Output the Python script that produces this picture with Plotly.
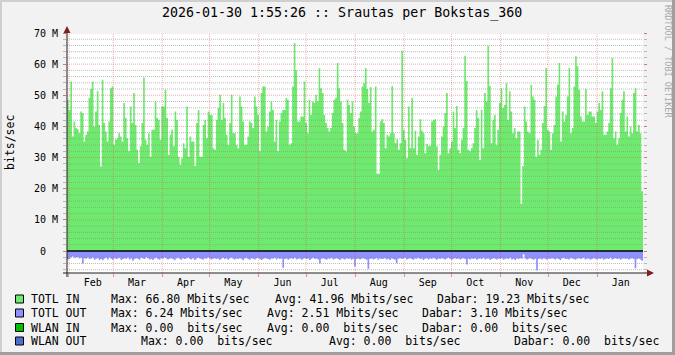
import pandas as pd
import plotly.graph_objects as go

TITLE = "2026-01-30 1:55:26 :: Srautas per Bokstas_360"
UNIT = "bits/sec"
WATERMARK = "RRDTOOL / TOBI OETIKER"
START = pd.Timestamp("2025-01-30 18:00:00")
END = pd.Timestamp("2026-01-30 01:55:26")

# TOTL IN, Mbits/sec
TOTL_IN_M = [
    48.6, 45.3, 54.4, 36.8, 41.6, 39.5, 39.1, 37.8, 44.8, 44.3,
    35.2, 37.3, 38.4, 49.1, 52.0, 54.4, 40.0, 44.8, 51.3, 40.5,
    27.1, 55.0, 41.1, 38.4, 35.2, 41.6, 52.3, 52.8, 34.1, 35.7,
    36.2, 37.8, 36.8, 35.2, 47.5, 42.7, 36.2, 32.0, 46.4, 41.1,
    50.7, 40.5, 32.5, 28.2, 33.6, 41.1, 55.7, 35.7, 34.1, 37.8,
    30.3, 38.9, 38.9, 48.0, 42.7, 42.1, 35.7, 46.4, 46.4, 51.8,
    42.7, 30.9, 37.3, 38.9, 33.6, 44.8, 42.1, 30.3, 27.7, 29.8,
    34.6, 33.0, 46.4, 30.3, 36.8, 35.2, 35.2, 27.3, 41.1, 45.3,
    30.3, 30.3, 40.5, 42.1, 36.2, 44.8, 43.7, 43.7, 33.0, 32.5, 42.1,
    45.9, 50.2, 42.1, 47.5, 42.7, 37.3, 34.1, 41.1, 50.2, 37.8,
    37.8, 34.1, 33.0, 49.6, 46.4, 41.6, 34.1, 34.1, 36.8, 41.6,
    41.1, 39.5, 49.6, 46.4, 43.7, 32.0, 50.7, 52.8, 52.8, 38.4, 40.0,
    44.8, 48.0, 45.3, 35.2, 42.1, 32.0, 41.6, 44.3, 45.3, 45.3, 49.1,
    48.6, 34.1, 34.6, 52.8, 66.8, 58.0, 41.6, 41.6, 43.2, 43.2,
    54.4, 41.1, 37.8, 48.6, 43.7, 48.0, 47.5, 50.2, 48.0, 58.7,
    52.3, 50.7, 43.7, 41.1, 39.5, 38.4, 39.5, 44.3, 48.6, 49.1,
    60.4, 52.3, 48.0, 41.1, 32.5, 32.0, 48.6, 46.9, 44.3, 48.0,
    40.0, 37.8, 37.8,
    42.7, 44.8, 52.8, 53.9, 58.8, 52.0, 47.5, 52.7, 38.4, 38.9,
    52.8, 24.8, 24.8, 41.6, 42.3, 41.1, 33.0, 37.3, 36.8, 37.8,
    53.0, 37.8, 34.6, 35.9, 32.5, 34.6, 64.3, 38.9, 35.7, 29.8,
    46.4, 33.0, 49.1, 33.0, 38.6, 30.9, 36.8, 42.3, 38.6, 37.8,
    31.4, 34.4, 33.6, 33.8, 41.6, 42.1, 42.3, 33.6, 26.0, 30.9,
    36.8, 40.0, 44.3, 50.7, 31.4, 33.0, 35.2, 44.8, 39.5, 46.6,
    32.5, 31.4, 35.7, 39.5, 62.7, 54.6, 32.5, 32.0, 33.0, 34.6,
    39.5, 45.3, 42.7, 29.2, 45.3, 33.0, 50.7, 48.0, 65.9, 53.0,
    34.6, 42.1, 43.7, 34.1, 38.9, 47.5, 52.3, 45.9, 46.9, 53.9,
    42.1, 51.3, 44.8, 37.8, 39.5, 36.2, 38.4, 38.4, 15.2, 27.3,
    46.4, 41.6, 38.4, 37.8, 53.4, 49.6, 48.6, 30.3, 35.7, 30.9,
    32.5, 41.1, 46.6, 58.8, 38.9, 38.4, 32.5, 37.8, 40.5, 49.6,
    53.4, 60.4, 35.2, 44.8, 41.6, 43.7, 49.6, 58.8, 37.8, 39.5,
    52.8, 62.5, 59.3, 51.8, 43.2, 41.6, 41.6, 52.0, 43.7, 44.8,
    44.8, 43.2, 43.2, 41.1, 44.8, 47.5, 45.3, 51.3, 37.3, 37.3,
    38.4, 41.1, 52.3, 62.0, 36.2, 38.4, 34.1, 36.2, 44.3, 48.6,
    51.3, 38.4, 43.2, 36.8, 40.0, 37.8, 50.7, 52.3, 38.4, 40.5,
    37.8, 19.2,
]

# TOTL OUT, Mbits/sec (drawn below zero)
TOTL_OUT_M = [
    2.7, 2.6, 2.0, 1.8, 2.2, 2.1, 1.9, 2.4, 2.2, 4.0,
    2.3, 2.5, 2.1, 2.6, 2.4, 2.2, 2.8, 2.5, 2.3, 2.9,
    2.6, 3.0, 2.4, 2.2, 2.7, 2.1, 2.5, 2.8, 2.3, 2.6,
    2.4, 2.2, 2.9, 2.6, 2.3, 2.5, 2.1, 2.7, 2.4, 3.1,
    2.6, 2.3, 2.5, 2.8, 2.2, 2.4, 2.6, 2.0, 2.3, 2.7,
    2.5, 2.9, 2.4, 2.2, 2.6, 2.8, 2.3, 2.5, 2.1, 2.4,
    2.7, 2.5, 2.3, 2.6, 3.0, 2.4, 2.2, 2.5, 2.8, 2.3,
    2.6, 2.4, 2.1, 2.5, 2.7, 2.3, 2.9, 2.5, 2.2, 2.4,
    2.6, 2.8, 2.3, 2.5, 2.1, 2.4, 2.7, 2.5, 2.3, 2.6,
    2.4, 2.9, 2.5, 2.2, 2.6, 2.3, 2.8, 2.4, 2.1, 2.5,
    2.7, 2.4, 2.6, 2.3, 2.5, 3.0, 2.4, 2.2, 2.6, 2.8,
    2.3, 2.5, 2.7, 2.4, 2.2, 2.6, 2.9, 2.5, 2.3, 2.4,
    2.6, 2.8, 2.4, 2.5, 2.2, 2.7, 2.3, 2.6, 2.4, 5.4,
    2.6, 2.4, 2.8, 2.5, 2.3, 2.6, 2.2, 2.7, 2.5, 2.4,
    2.8, 2.5, 2.3, 2.6, 2.4, 2.9, 2.5, 2.2, 2.6, 2.4,
    2.7, 4.0, 2.5, 2.3, 2.6, 2.8, 2.4, 2.5, 2.2, 2.7,
    2.5, 2.3, 2.6, 2.9, 2.4, 2.5, 2.7, 2.3, 2.6, 2.4,
    2.8, 2.5, 5.0, 2.6, 2.4, 2.7, 2.5, 2.3, 2.6, 2.8,
    5.7, 2.6, 2.4, 2.7, 2.5, 2.3, 2.8, 2.4, 2.6, 2.5,
    2.3, 2.7, 2.5, 2.9, 2.4, 2.6, 2.8, 3.9, 2.5, 2.3,
    2.6, 2.4, 2.2, 2.7, 2.5, 2.3, 2.6, 2.8, 2.4, 2.5,
    2.2, 2.6, 2.4, 2.9, 2.5, 2.3, 2.7, 2.4, 2.6, 2.2,
    2.5, 2.8, 2.4, 2.6, 2.3, 2.5, 2.7, 2.4, 2.2, 2.6,
    2.8, 2.5, 2.3, 2.6, 2.4, 2.7, 2.5, 2.3, 2.6, 4.3,
    2.5, 2.7, 2.4, 2.6, 2.3, 2.8, 2.5, 2.4, 2.6, 2.2,
    2.7, 2.5, 2.4, 2.9, 2.6, 2.3, 2.5, 2.7, 2.4, 2.6,
    2.3, 2.8, 2.5, 2.4, 2.6, 2.2, 2.7, 2.5, 2.9, 2.4,
    2.6, 2.3, 2.5, 1.0, 2.4, 2.7, 2.5, 2.3, 2.6, 2.8,
    2.5, 6.24, 2.6, 2.4, 2.7, 2.3, 2.5, 2.8, 2.4, 2.6,
    2.3, 2.5, 2.7, 2.4, 2.6, 2.9, 2.4, 2.2, 2.6, 2.5,
    2.7, 2.4, 2.3, 2.6, 2.8, 2.5, 2.3, 2.6, 2.4, 2.2,
    2.7, 2.5, 2.4, 2.8, 2.6, 2.3, 2.5, 2.7, 2.4, 2.6,
    2.3, 2.8, 2.5, 2.4, 2.6, 2.2, 2.7, 2.5, 2.3, 2.6,
    2.4, 2.8, 2.5, 2.3, 2.6, 2.4, 2.7, 2.5, 2.3, 2.6,
    5.5, 2.6, 2.4, 2.7, 3.1,
]

MONTH_LABELS = ["Feb", "Mar", "Apr", "May", "Jun", "Jul",
                "Aug", "Sep", "Oct", "Nov", "Dec", "Jan"]
MONTH_STARTS = list(pd.date_range("2025-02-01", "2026-01-01", freq="MS"))
Y_MAJOR = [0, 10, 20, 30, 40, 50, 60, 70]
Y_TEXT = ["0\u00a0\u00a0", "10 M", "20 M", "30 M", "40 M", "50 M", "60 M", "70 M"]
Y_MIN, Y_MAX = -7.06, 70.0

LEGEND_NAMES = ["TOTL IN", "TOTL OUT", "WLAN IN", "WLAN OUT"]
LEGEND_COLORS = ["#6EEB6E", "#8F8FFF", "#00C000", "#4F6FCF"]
LEGEND_MAX = ["Max: 66.80 Mbits/sec", "Max: 6.24 Mbits/sec",
              "Max: 0.00\u00a0\u00a0bits/sec", "Max: 0.00\u00a0\u00a0bits/sec"]
LEGEND_AVG = ["Avg: 41.96 Mbits/sec", "Avg: 2.51 Mbits/sec",
              "Avg: 0.00\u00a0\u00a0bits/sec", "Avg: 0.00\u00a0\u00a0bits/sec"]
LEGEND_CUR = ["Dabar: 19.23 Mbits/sec", "Dabar: 3.10 Mbits/sec",
              "Dabar: 0.00\u00a0\u00a0bits/sec", "Dabar: 0.00\u00a0\u00a0bits/sec"]

# ---- layout geometry (pixels) ----
W, H = 675, 355
L, R, T, B = 67, 643, 33, 273
FONT = "DejaVu Sans Mono"
GRID = "rgba(143,143,143,0.6)"
MGRID = "rgba(222,79,79,0.45)"
MTICK = "rgba(222,79,79,0.6)"
ARROW = "#801f1f"
AXIS = "#1f1f1f"


def px(x):
    return (x - L) / (R - L)


def py(y):
    return (B - y) / (B - T)


def step_series(vals):
    edges = pd.date_range(START, END, periods=len(vals) + 1)
    return list(edges), list(vals) + [vals[-1]]


fig = go.Figure()
xi, yi = step_series(TOTL_IN_M)
fig.add_trace(go.Scatter(x=xi, y=yi, mode="lines", line=dict(width=0, shape="hv", color=LEGEND_COLORS[0]),
                         fill="tozeroy", fillcolor=LEGEND_COLORS[0], hoverinfo="skip"))
xo, yo = step_series([-v for v in TOTL_OUT_M])
fig.add_trace(go.Scatter(x=xo, y=yo, mode="lines", line=dict(width=0, shape="hv", color=LEGEND_COLORS[1]),
                         fill="tozeroy", fillcolor=LEGEND_COLORS[1], hoverinfo="skip"))
# invisible trace for right-side tick axis
fig.add_trace(go.Scatter(x=[START], y=[0], yaxis="y2", mode="markers", marker=dict(opacity=0),
                         hoverinfo="skip"))

shapes = []
DASH = "1px,1px"
# horizontal grid
for v in range(-6, 71, 2):
    if v == 0:
        continue
    col = MGRID if v % 10 == 0 else GRID
    shapes.append(dict(type="line", xref="x", yref="y", x0=START, x1=END, y0=v, y1=v,
                       line=dict(color=col, width=1, dash=DASH), layer="above"))
# vertical grid at month starts
for m in MONTH_STARTS:
    shapes.append(dict(type="line", xref="x", yref="y", x0=m, x1=m, y0=Y_MIN, y1=Y_MAX,
                       line=dict(color=MGRID, width=1, dash=DASH), layer="above"))
# zero line
shapes.append(dict(type="line", xref="x", yref="y", x0=START, x1=END, y0=0, y1=0,
                   line=dict(color="#000000", width=1.5), layer="above"))
# axes lines
shapes.append(dict(type="line", xref="paper", yref="paper", x0=px(67), x1=px(67), y0=py(277), y1=py(30),
                   line=dict(color=AXIS, width=1), layer="above"))
shapes.append(dict(type="line", xref="paper", yref="paper", x0=px(63), x1=px(650), y0=py(273), y1=py(273),
                   line=dict(color=AXIS, width=1), layer="above"))


def tri(pts):
    d = "M " + " L ".join(f"{px(a)},{py(b)}" for a, b in pts) + " Z"
    return d


shapes.append(dict(type="path", xref="paper", yref="paper", path=tri([(67, 26), (63.5, 33), (70.5, 33)]),
                   fillcolor=ARROW, line=dict(width=0), layer="above"))
shapes.append(dict(type="path", xref="paper", yref="paper", path=tri([(654, 273), (647, 269.5), (647, 276.5)]),
                   fillcolor=ARROW, line=dict(width=0), layer="above"))
# frame shading
shapes.append(dict(type="rect", xref="paper", yref="paper", x0=px(0), x1=px(W), y0=py(0), y1=py(2),
                   fillcolor="#CFCFCF", line=dict(width=0), layer="above"))
shapes.append(dict(type="rect", xref="paper", yref="paper", x0=px(0), x1=px(2), y0=py(0), y1=py(H),
                   fillcolor="#CFCFCF", line=dict(width=0), layer="above"))
shapes.append(dict(type="rect", xref="paper", yref="paper", x0=px(0), x1=px(W), y0=py(H - 3), y1=py(H),
                   fillcolor="#9E9E9E", line=dict(width=0), layer="above"))
shapes.append(dict(type="rect", xref="paper", yref="paper", x0=px(W - 3), x1=px(W), y0=py(0), y1=py(H),
                   fillcolor="#9E9E9E", line=dict(width=0), layer="above"))

annotations = []
annotations.append(dict(text=TITLE, xref="paper", yref="paper", x=px(342), y=py(13), xanchor="center",
                        yanchor="middle", showarrow=False, font=dict(family=FONT, size=13.3, color="#000")))
annotations.append(dict(text=UNIT, xref="paper", yref="paper", x=px(10), y=py(143), xanchor="center",
                        yanchor="middle", textangle=-90, showarrow=False,
                        font=dict(family=FONT, size=11.5, color="#000")))
annotations.append(dict(text=WATERMARK, xref="paper", yref="paper", x=px(668), y=py(61), xanchor="center",
                        yanchor="middle", textangle=90, showarrow=False,
                        font=dict(family=FONT, size=8.5, color="#A8A8A8")))

ROW_Y = [299, 313, 327.5, 341]
MAX_X = [110, 110, 110, 139.5]
AVG_X = [273.5, 266, 266, 327.5]
CUR_X = [436, 421, 421, 512.5]
for i, name in enumerate(LEGEND_NAMES):
    yy = ROW_Y[i]
    shapes.append(dict(type="rect", xref="paper", yref="paper", x0=px(15.5), x1=px(23.5),
                       y0=py(yy - 4), y1=py(yy + 4), fillcolor=LEGEND_COLORS[i],
                       line=dict(color="#000", width=1), layer="above"))
    for txt, xx in [(name, 30), (LEGEND_MAX[i], MAX_X[i]), (LEGEND_AVG[i], AVG_X[i]), (LEGEND_CUR[i], CUR_X[i])]:
        annotations.append(dict(text=txt, xref="paper", yref="paper", x=px(xx), y=py(yy), xanchor="left",
                                yanchor="middle", showarrow=False, borderpad=0,
                                font=dict(family=FONT, size=11.5, color="#000")))

label_pos = [m + pd.Timedelta(days=15) for m in MONTH_STARTS]

fig.update_layout(
    width=W, height=H, autosize=False,
    margin=dict(l=L, r=W - R, t=T, b=H - B, pad=0),
    paper_bgcolor="#F2F2F2", plot_bgcolor="#FFFFFF",
    showlegend=False,
    xaxis=dict(type="date", range=[START, END], showgrid=False, zeroline=False, showline=False,
               tickmode="array", tickvals=label_pos, ticktext=MONTH_LABELS, ticks="",
               tickfont=dict(family=FONT, size=10, color="#000"), ticklabelstandoff=2,
               minor=dict(tickmode="array", tickvals=MONTH_STARTS, ticks="outside", ticklen=3,
                          tickcolor=MTICK, showgrid=False)),
    yaxis=dict(range=[Y_MIN, Y_MAX], showgrid=False, zeroline=False, showline=False,
               tickmode="array", tickvals=Y_MAJOR, ticktext=Y_TEXT, ticks="outside", ticklen=3,
               tickcolor=MTICK, tickfont=dict(family=FONT, size=10, color="#000"), ticklabelstandoff=3,
               minor=dict(tick0=0, dtick=2, ticks="outside", ticklen=3, tickcolor=GRID, showgrid=False)),
    yaxis2=dict(range=[Y_MIN, Y_MAX], overlaying="y", side="right", showgrid=False, zeroline=False,
                showline=False, tickmode="array", tickvals=Y_MAJOR, showticklabels=False,
                ticks="outside", ticklen=3, tickcolor=MTICK,
                minor=dict(tick0=0, dtick=2, ticks="outside", ticklen=3, tickcolor=GRID, showgrid=False)),
    shapes=shapes,
    annotations=annotations,
)

fig.write_html("out.html", config={"displayModeBar": False})
